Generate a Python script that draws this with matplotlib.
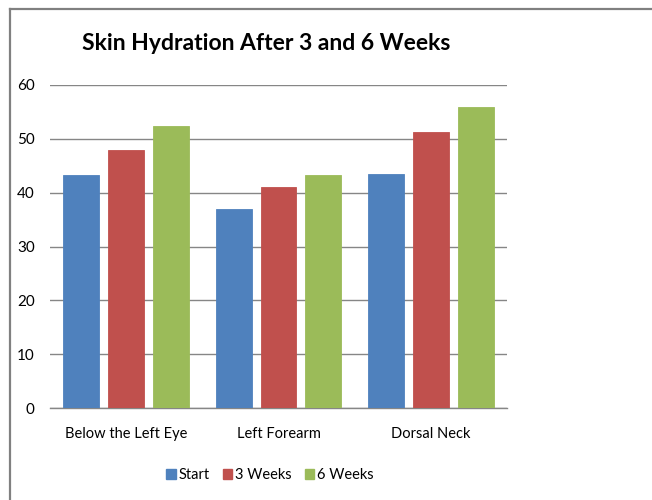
import matplotlib
matplotlib.use("Agg")
import matplotlib.pyplot as plt
from matplotlib.lines import Line2D
from matplotlib.patches import Patch
import numpy as np

plt.rcParams['font.family'] = ['Lato', 'DejaVu Sans']

# Data
categories = ["Below the Left Eye", "Left Forearm", "Dorsal Neck"]
series_names = ["Start", "3 Weeks", "6 Weeks"]
start = [43.3, 37.0, 43.4]
weeks_3 = [47.9, 41.1, 51.2]
weeks_6 = [52.3, 43.2, 55.9]
y_ticks = [0, 10, 20, 30, 40, 50, 60]

colors = ["#4F81BD", "#C0504D", "#9BBB59"]
grid_col = "#868686"

fig = plt.figure(figsize=(6.52, 5.0), dpi=100)
ax = fig.add_axes([50 / 652, 1 - 408 / 500, 457 / 652, 323 / 500])

x = np.arange(len(categories))
w = 1 / 4.25  # Excel gap width 75%, overlap -25%
for i, (vals, col) in enumerate(zip([start, weeks_3, weeks_6], colors)):
    ax.bar(x + (i - 1) * 1.25 * w, vals, width=w, color=col, zorder=3,
           edgecolor=col, linewidth=0.6)

ax.set_xlim(-0.5, len(categories) - 0.5)
ax.set_ylim(0, 60)
ax.set_yticks(y_ticks)
ax.set_xticks(x)
ax.set_xticklabels(categories, fontsize=10.5)
ax.yaxis.grid(True, color=grid_col, linewidth=1.0, zorder=0)
ax.tick_params(axis="both", length=0, colors="black")
ax.tick_params(axis="y", pad=11, labelsize=11)
ax.tick_params(axis="x", pad=14)
for s in ["left", "right", "top"]:
    ax.spines[s].set_visible(False)
ax.spines["bottom"].set_color(grid_col)
ax.spines["bottom"].set_linewidth(1.0)

fig.text(266 / 652, 1 - 43 / 500, "Skin Hydration After 3 and 6 Weeks",
         ha="center", va="center", fontsize=16.5, fontweight="bold")

handles = [Patch(facecolor=c, edgecolor=c) for c in colors]
fig.legend(handles, series_names, loc="center", bbox_to_anchor=(270 / 652, 1 - 475 / 500),
           ncol=3, frameon=False, fontsize=10.5, handlelength=0.65, handleheight=0.65,
           handletextpad=0.2, columnspacing=0.9)

# chart area border (cropped on the right and bottom)
fig.add_artist(Line2D([9.5 / 652, 9.5 / 652], [0, 1 - 8.5 / 500], color="#808080", linewidth=1.6))
fig.add_artist(Line2D([9.5 / 652, 1], [1 - 8.5 / 500, 1 - 8.5 / 500], color="#808080", linewidth=1.6))

fig.savefig("out.png", dpi=100)
